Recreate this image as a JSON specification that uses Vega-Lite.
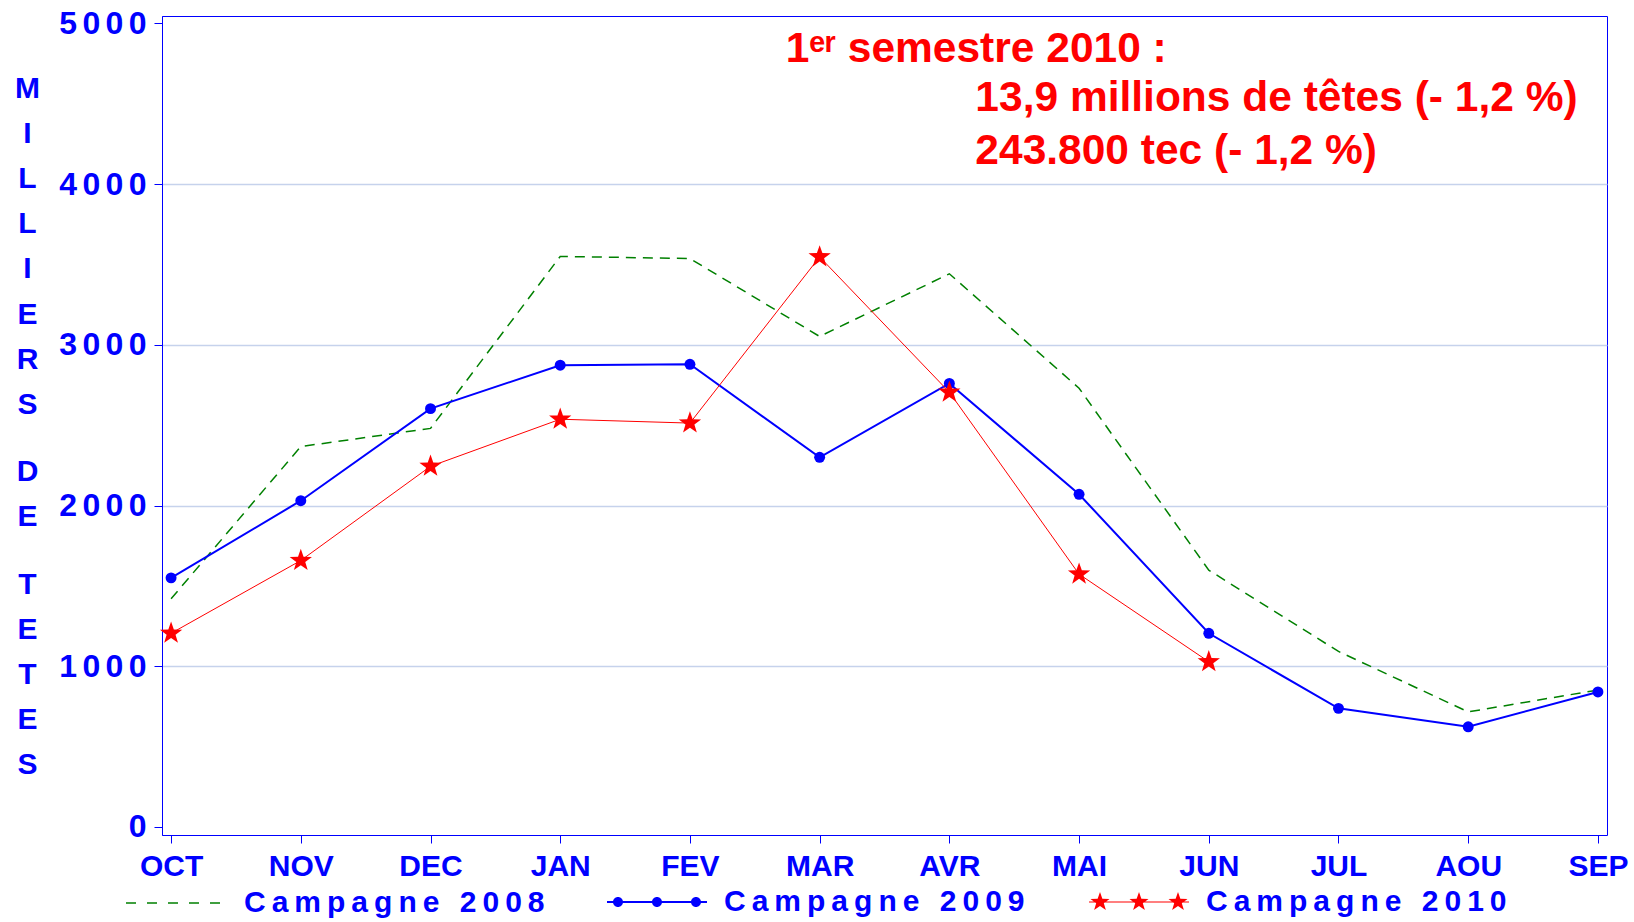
{
  "$schema": "https://vega.github.io/schema/vega-lite/v6.json",
  "width": 1445,
  "height": 819,
  "autosize": {"type": "none"},
  "padding": {"left": 162, "top": 16, "right": 27, "bottom": 87},
  "background": "white",
  "config": {
    "font": "Liberation Sans",
    "view": {"stroke": "#0000ff", "strokeWidth": 1},
    "axis": {
      "labelFont": "Liberation Sans",
      "labelFontWeight": "bold",
      "labelColor": "#0000ff",
      "domainColor": "#0000ff",
      "tickColor": "#0000ff",
      "tickSize": 8,
      "tickWidth": 1,
      "domainWidth": 1
    },
    "legend": {
      "title": null,
      "orient": "none",
      "direction": "horizontal",
      "padding": 0,
      "symbolSize": 10000,
      "labelOffset": 17,
      "labelFont": "Liberation Sans",
      "labelFontSize": 30,
      "labelFontWeight": "bold",
      "labelColor": "#0000ff",
      "labelLimit": 600,
      "symbolOpacity": 1
    }
  },
  "datasets": {
    "series": [
      {"month": "OCT", "campagne": "Campagne 2008", "value": 1420},
      {"month": "NOV", "campagne": "Campagne 2008", "value": 2367},
      {"month": "DEC", "campagne": "Campagne 2008", "value": 2480},
      {"month": "JAN", "campagne": "Campagne 2008", "value": 3550},
      {"month": "FEV", "campagne": "Campagne 2008", "value": 3537},
      {"month": "MAR", "campagne": "Campagne 2008", "value": 3052},
      {"month": "AVR", "campagne": "Campagne 2008", "value": 3442},
      {"month": "MAI", "campagne": "Campagne 2008", "value": 2730},
      {"month": "JUN", "campagne": "Campagne 2008", "value": 1598},
      {"month": "JUL", "campagne": "Campagne 2008", "value": 1092},
      {"month": "AOU", "campagne": "Campagne 2008", "value": 716},
      {"month": "SEP", "campagne": "Campagne 2008", "value": 852},
      {"month": "OCT", "campagne": "Campagne 2009", "value": 1550},
      {"month": "NOV", "campagne": "Campagne 2009", "value": 2030},
      {"month": "DEC", "campagne": "Campagne 2009", "value": 2603},
      {"month": "JAN", "campagne": "Campagne 2009", "value": 2873},
      {"month": "FEV", "campagne": "Campagne 2009", "value": 2879},
      {"month": "MAR", "campagne": "Campagne 2009", "value": 2300},
      {"month": "AVR", "campagne": "Campagne 2009", "value": 2760},
      {"month": "MAI", "campagne": "Campagne 2009", "value": 2070},
      {"month": "JUN", "campagne": "Campagne 2009", "value": 1205},
      {"month": "JUL", "campagne": "Campagne 2009", "value": 738},
      {"month": "AOU", "campagne": "Campagne 2009", "value": 623},
      {"month": "SEP", "campagne": "Campagne 2009", "value": 840},
      {"month": "OCT", "campagne": "Campagne 2010", "value": 1205},
      {"month": "NOV", "campagne": "Campagne 2010", "value": 1658},
      {"month": "DEC", "campagne": "Campagne 2010", "value": 2244},
      {"month": "JAN", "campagne": "Campagne 2010", "value": 2537},
      {"month": "FEV", "campagne": "Campagne 2010", "value": 2513},
      {"month": "MAR", "campagne": "Campagne 2010", "value": 3547},
      {"month": "AVR", "campagne": "Campagne 2010", "value": 2705},
      {"month": "MAI", "campagne": "Campagne 2010", "value": 1573},
      {"month": "JUN", "campagne": "Campagne 2010", "value": 1028}
    ],
    "note1": [{"note": "1\u1d49\u02b3 semestre 2010 :", "month": "MAR", "value": 4762}],
    "note2": [{"note": "13,9 millions de têtes (- 1,2 %)\n243.800 tec (- 1,2 %)", "month": "AVR", "value": 4455}]
  },
  "data": {"name": "series"},
  "resolve": {"scale": {"opacity": "independent"}, "legend": {"opacity": "independent"}},
  "encoding": {
    "x": {
      "field": "month",
      "type": "ordinal",
      "scale": {"type": "point", "padding": 0.07, "domain": ["OCT", "NOV", "DEC", "JAN", "FEV", "MAR", "AVR", "MAI", "JUN", "JUL", "AOU", "SEP"]},
      "axis": {
        "title": null,
        "orient": "bottom",
        "labelAngle": 0,
        "labelFontSize": 30,
        "labelPadding": 8,
        "grid": false,
        "domain": false
      }
    },
    "y": {
      "field": "value",
      "type": "quantitative",
      "scale": {"domain": [-50, 5046], "nice": false, "zero": false},
      "axis": {
        "values": [0, 1000, 2000, 3000, 4000, 5000],
        "format": "d",
        "labelExpr": "join(split(datum.label, ''), '\u2006')",
        "labelFontSize": 32,
        "labelPadding": 8,
        "grid": true,
        "gridColor": "#c6d2ec",
        "gridWidth": 1.5,
        "gridOpacity": {"condition": {"test": "datum.value === 0 || datum.value === 5000", "value": 0}, "value": 1},
        "title": ["M", "\u200b", "I", "\u200b", "L", "\u200b", "L", "\u200b", "I", "\u200b", "E", "\u200b", "R", "\u200b", "S", "\u200b", "\u200b", "D", "\u200b", "E", "\u200b", "\u200b", "T", "\u200b", "E", "\u200b", "T", "\u200b", "E", "\u200b", "S"],
        "titleAngle": 0,
        "titleX": -135,
        "titleY": 81.5,
        "titleAlign": "center",
        "titleBaseline": "alphabetic",
        "titleLineHeight": 22.55,
        "titleFont": "Liberation Sans",
        "titleFontSize": 30,
        "titleFontWeight": "bold",
        "titleColor": "#0000ff"
      }
    }
  },
  "layer": [
    {
      "transform": [{"filter": "datum.campagne === 'Campagne 2008'"}],
      "mark": {"type": "line", "color": "#008000", "strokeDash": [10, 7], "strokeWidth": 1.5},
      "encoding": {
        "opacity": {
          "field": "campagne",
          "type": "nominal",
          "scale": {"type": "ordinal", "domain": ["Campagne 2008"], "range": [1]},
          "legend": {
            "legendX": -37,
            "legendY": 836,
            "symbolType": "M-1,0H1",
            "symbolStrokeColor": "#008000",
            "symbolFillColor": "transparent",
            "symbolStrokeWidth": 1.5,
            "symbolDash": [10, 11],
            "labelExpr": "join(split(datum.label, ''), '\u2009')"
          }
        }
      }
    },
    {
      "transform": [{"filter": "datum.campagne === 'Campagne 2009'"}],
      "mark": {"type": "line", "color": "#0000ff", "strokeWidth": 2}
    },
    {
      "transform": [{"filter": "datum.campagne === 'Campagne 2009'"}],
      "mark": {"type": "point", "shape": "circle", "filled": true, "size": 120, "color": "#0000ff"},
      "encoding": {
        "opacity": {
          "field": "campagne",
          "type": "nominal",
          "scale": {"type": "ordinal", "domain": ["Campagne 2009"], "range": [1]},
          "legend": {
            "legendX": 445,
            "legendY": 836,
            "symbolType": "M-1,-0.02H1V0.02H-1ZM-0.88,0a0.1,0.1 0 1,1 0.2,0a0.1,0.1 0 1,1 -0.2,0ZM-0.1,0a0.1,0.1 0 1,1 0.2,0a0.1,0.1 0 1,1 -0.2,0ZM0.68,0a0.1,0.1 0 1,1 0.2,0a0.1,0.1 0 1,1 -0.2,0Z",
            "symbolFillColor": "#0000ff",
            "symbolStrokeColor": "#0000ff",
            "symbolStrokeWidth": 0,
            "labelExpr": "join(split(datum.label, ''), '\u2009')"
          }
        }
      }
    },
    {
      "transform": [{"filter": "datum.campagne === 'Campagne 2010'"}],
      "mark": {"type": "line", "color": "#ff0000", "strokeWidth": 1}
    },
    {
      "transform": [{"filter": "datum.campagne === 'Campagne 2010'"}],
      "mark": {"type": "point", "shape": "M0,-1L0.2351,-0.3236L0.9511,-0.309L0.3804,0.1236L0.5878,0.809L0,0.4L-0.5878,0.809L-0.3804,0.1236L-0.9511,-0.309L-0.2351,-0.3236Z", "filled": true, "size": 550, "color": "#ff0000"},
      "encoding": {
        "opacity": {
          "field": "campagne",
          "type": "nominal",
          "scale": {"type": "ordinal", "domain": ["Campagne 2010"], "range": [1]},
          "legend": {
            "legendX": 927,
            "legendY": 836,
            "symbolType": "M-1,-0.012H1V0.012H-1ZM-0.78,-0.2L-0.733,-0.0647L-0.5898,-0.0618L-0.7039,0.0247L-0.6624,0.1618L-0.78,0.08L-0.8976,0.1618L-0.8561,0.0247L-0.9702,-0.0618L-0.827,-0.0647ZM0,-0.2L0.047,-0.0647L0.1902,-0.0618L0.0761,0.0247L0.1176,0.1618L0,0.08L-0.1176,0.1618L-0.0761,0.0247L-0.1902,-0.0618L-0.047,-0.0647ZM0.78,-0.2L0.827,-0.0647L0.9702,-0.0618L0.8561,0.0247L0.8976,0.1618L0.78,0.08L0.6624,0.1618L0.7039,0.0247L0.5898,-0.0618L0.733,-0.0647Z",
            "symbolFillColor": "#ff0000",
            "symbolStrokeColor": "#ff0000",
            "symbolStrokeWidth": 0,
            "labelExpr": "join(split(datum.label, ''), '\u2009')"
          }
        }
      }
    },
    {
      "data": {"name": "note1"},
      "mark": {"type": "text", "align": "left", "baseline": "alphabetic", "dx": -34, "font": "Liberation Sans", "fontSize": 42.5, "fontWeight": "bold", "fill": "#ff0000"},
      "encoding": {
        "text": {"field": "note", "type": "nominal"}
      }
    },
    {
      "data": {"name": "note2"},
      "mark": {"type": "text", "align": "left", "baseline": "alphabetic", "dx": 26, "lineBreak": "\n", "lineHeight": 53, "font": "Liberation Sans", "fontSize": 42.5, "fontWeight": "bold", "fill": "#ff0000"},
      "encoding": {
        "text": {"field": "note", "type": "nominal"}
      }
    }
  ]
}
